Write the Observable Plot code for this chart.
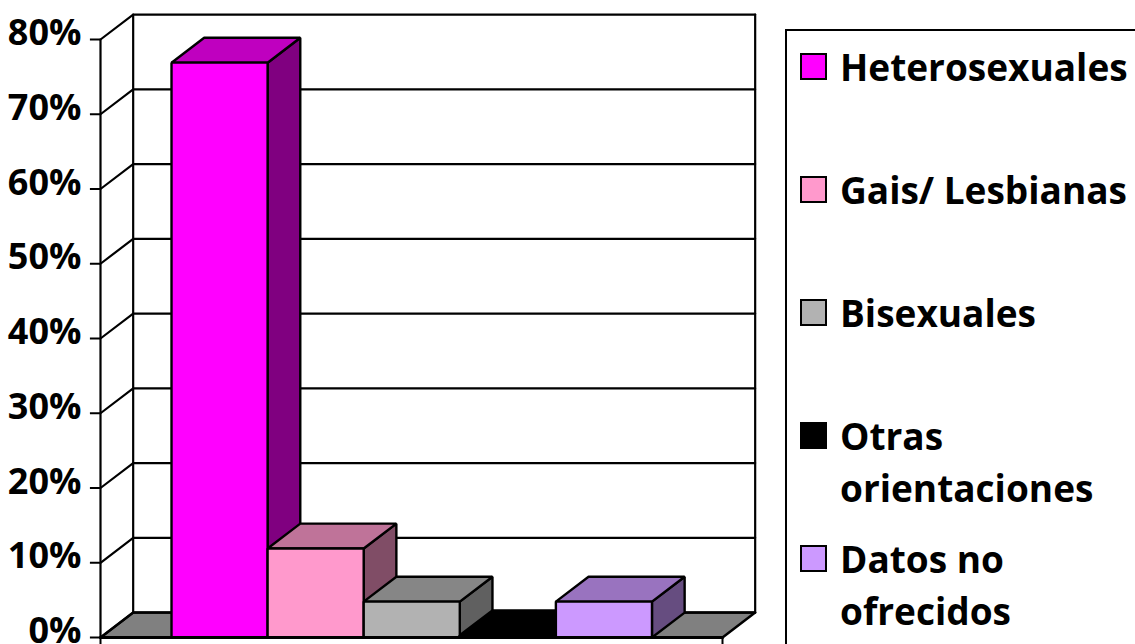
<!DOCTYPE html>
<html>
<head>
<meta charset="utf-8">
<script src="https://cdn.jsdelivr.net/npm/d3@7"></script>
<script src="https://cdn.jsdelivr.net/npm/@observablehq/plot@0.6"></script>
<style>
html,body{margin:0;padding:0;background:#fff;overflow:hidden;width:1135px;height:644px}
#chart{position:absolute;left:0;top:0}
#legend{position:absolute;left:785px;top:29px;width:360px;height:630px;border-left:2px solid #000;border-top:2px solid #000;box-sizing:border-box;font-family:"Open Sans",sans-serif;font-weight:700;font-size:37px;color:#000}
.item{position:absolute;left:13px;display:flex;line-height:52px;white-space:pre-line}
.sw{width:27px;height:27px;box-sizing:border-box;border:2px solid #000;margin-top:12px;margin-right:13px;flex:none}
</style>
</head>
<body>
<div id="chart"></div>
<div id="legend"></div>
<script>
const categories = ["Heterosexuales","Gais/ Lesbianas","Bisexuales","Otras\norientaciones","Datos no\nofrecidos"];
const values = [76.9,11.9,4.8,0.3,4.8];
const frontColors = ["#FF00FF","#FF99CC","#B2B2B2","#000000","#CC99FF"];
const topColors = ["#BF00BF","#BF7399","#868686","#000000","#9973BF"];
const sideColors = ["#800080","#804D66","#606060","#000000","#664D80"];
const yTicks = [0,10,20,30,40,50,60,70,80];
const xMin = -0.739, xMax = 5.734, depthX = 0.34, depthY = 3.33;
const tickLenX = 0.105, tickLenY = 1;

const faces = [];
const poly = (id,fill,pts)=>pts.forEach(([x,y])=>faces.push({id,fill,x,y}));
categories.forEach((c,i)=>{
  const v = values[i];
  poly(c+"-side",sideColors[i],[[i+1,0],[i+1+depthX,depthY],[i+1+depthX,v+depthY],[i+1,v]]);
  poly(c+"-top",topColors[i],[[i,v],[i+depthX,v+depthY],[i+1+depthX,v+depthY],[i+1,v]]);
  poly(c+"-front",frontColors[i],[[i,0],[i,v],[i+1,v],[i+1,0]]);
});
const floor = [[xMin,0],[xMax,0],[xMax+depthX,depthY],[xMin+depthX,depthY]].map(([x,y])=>({x,y}));
const grid = yTicks.flatMap(t=>[
  {t,x:xMin,y:t},{t,x:xMin+depthX,y:t+depthY},{t,x:xMax+depthX,y:t+depthY}
]);
const walls = [
  {k:"a",x:xMin,y:0},{k:"a",x:xMin,y:80},
  {k:"b",x:xMin+depthX,y:depthY},{k:"b",x:xMin+depthX,y:80+depthY},
  {k:"c",x:xMax+depthX,y:depthY},{k:"c",x:xMax+depthX,y:80+depthY}
];
const baseLine = [{x:xMin,y:0},{x:xMax,y:0}];

const chart = Plot.plot({
  width:760,height:644,
  marginLeft:100,marginRight:38,marginTop:39,marginBottom:7,
  x:{domain:[xMin,xMax],axis:null},
  y:{domain:[0,80],axis:null},
  color:{type:"identity"},
  style:{background:"transparent",overflow:"visible"},
  marks:[
    Plot.line(floor,{x:"x",y:"y",fill:"#808080",stroke:"#000",strokeWidth:2.5,curve:"linear-closed"}),
    Plot.line(grid,{x:"x",y:"y",z:"t",stroke:"#000",strokeWidth:2.2}),
    Plot.line(walls,{x:"x",y:"y",z:"k",stroke:"#000",strokeWidth:2.2}),
    Plot.line(faces,{x:"x",y:"y",z:"id",fill:"fill",stroke:"#000",strokeWidth:2.4,strokeLinejoin:"miter",curve:"linear-closed"}),
    Plot.line(baseLine,{x:"x",y:"y",stroke:"#000",strokeWidth:3}),
    Plot.ruleX([xMin,xMax],{y1:0,y2:-tickLenY,stroke:"#000",strokeWidth:2,clip:false}),
    Plot.ruleY(yTicks,{x1:xMin-tickLenX,x2:xMin,stroke:"#000",strokeWidth:2}),
    Plot.text(yTicks,{text:d=>d+"%",x:xMin-tickLenX,y:d=>d,dx:-9,dy:-6,textAnchor:"end",
      fontSize:36,fontWeight:700,fontFamily:"Open Sans",fill:"#000"})
  ]
});
document.getElementById("chart").appendChild(chart);

const legend = d3.select("#legend");
categories.forEach((c,i)=>{
  const it = legend.append("div").attr("class","item").style("top",(10+123*i)+"px");
  it.append("div").attr("class","sw").style("background",frontColors[i]);
  it.append("div").text(c);
});
</script>
</body>
</html>
